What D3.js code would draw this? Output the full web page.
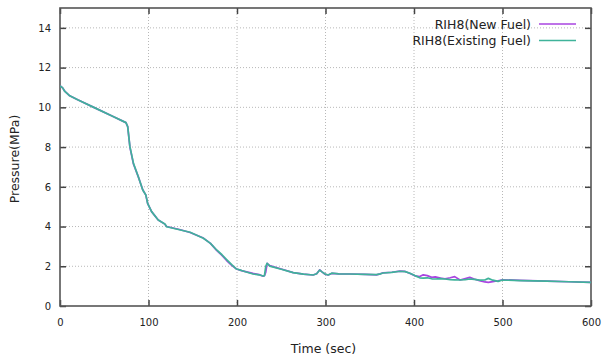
<!DOCTYPE html>
<html>
<head>
<meta charset="utf-8">
<script src="https://cdn.jsdelivr.net/npm/d3@7"></script>
<style>
  body { margin: 0; background: #fff; }
  text { font-family: "DejaVu Sans", sans-serif; fill: #222; }
</style>
</head>
<body>
<script>
// time (sec) and pressure (MPa)
const time = [0, 1, 3, 5.5, 8, 11, 20, 40, 60, 74.5, 76.5, 79, 83, 88.5, 93.5, 97, 99, 103.5, 111, 118.5,
  120.5, 135, 147, 162, 170, 177, 183, 188, 194, 199.5, 205, 218, 225, 229.5, 231, 232.5, 234, 237,
  250, 263.5, 275, 286, 290, 293.5, 296, 299.5, 303, 307, 315, 327.5, 345, 357.5, 362, 365, 375, 384,
  390, 395.5, 401, 406.5, 410.5, 415, 420, 424, 430, 435, 441, 446, 452, 458, 463, 468, 474, 480,
  484, 489, 495, 500, 520, 550, 575, 600];
const newFuel = [11.05, 11.05, 10.98, 10.8, 10.7, 10.58, 10.38, 9.96, 9.54, 9.23, 9.03, 8.0, 7.15, 6.5, 5.85, 5.58, 5.17, 4.75, 4.33, 4.12,
  4.0, 3.85, 3.7, 3.42, 3.15, 2.8, 2.55, 2.3, 2.05, 1.86, 1.78, 1.64, 1.58, 1.5, 1.52, 1.7, 2.15, 2.03,
  1.86, 1.68, 1.6, 1.56, 1.62, 1.82, 1.72, 1.6, 1.56, 1.64, 1.62, 1.61, 1.59, 1.57, 1.62, 1.67, 1.7, 1.76,
  1.74, 1.64, 1.52, 1.48, 1.57, 1.53, 1.44, 1.47, 1.41, 1.37, 1.42, 1.48, 1.31, 1.38, 1.44, 1.36, 1.28, 1.21,
  1.19, 1.23, 1.27, 1.32, 1.29, 1.25, 1.22, 1.19];
const existingFuel = [11.05, 11.05, 10.98, 10.8, 10.7, 10.58, 10.38, 9.96, 9.54, 9.23, 9.03, 8.02, 7.18, 6.51, 5.84, 5.59, 5.17, 4.75, 4.33, 4.13,
  3.99, 3.84, 3.71, 3.41, 3.15, 2.82, 2.58, 2.35, 2.08, 1.86, 1.79, 1.61, 1.57, 1.51, 1.53, 2.0, 2.15, 2.01,
  1.85, 1.68, 1.6, 1.56, 1.62, 1.81, 1.72, 1.61, 1.56, 1.65, 1.62, 1.61, 1.59, 1.58, 1.62, 1.66, 1.69, 1.75,
  1.73, 1.65, 1.53, 1.42, 1.4, 1.42, 1.37, 1.36, 1.38, 1.36, 1.33, 1.32, 1.31, 1.33, 1.36, 1.34, 1.3, 1.31,
  1.39, 1.3, 1.24, 1.31, 1.28, 1.25, 1.22, 1.19];
const xTicks = [0, 100, 200, 300, 400, 500, 600];
const yTicks = [0, 2, 4, 6, 8, 10, 12, 14];
const seriesNames = ["RIH8(New Fuel)", "RIH8(Existing Fuel)"];
const seriesColors = ["#a945e0", "#3fb39a"];

const width = 605;
const height = 358;
const margin = { top: 8, right: 14, bottom: 52, left: 60 };

const x = d3.scaleLinear().domain([0, 600]).range([margin.left, width - margin.right]);
const y = d3.scaleLinear().domain([0, 15]).range([height - margin.bottom, margin.top]);

const svg = d3.select("body").append("svg")
  .attr("width", width)
  .attr("height", height);

// grid
svg.append("g")
  .attr("stroke", "#b8b8b8")
  .attr("stroke-dasharray", "1,2")
  .selectAll("line.gx")
  .data(xTicks.slice(1, -1))
  .join("line")
  .attr("x1", d => x(d)).attr("x2", d => x(d))
  .attr("y1", y(0)).attr("y2", y(15));
svg.append("g")
  .attr("stroke", "#b8b8b8")
  .attr("stroke-dasharray", "1,2")
  .selectAll("line.gy")
  .data(yTicks.slice(1))
  .join("line")
  .attr("x1", x(0)).attr("x2", x(600))
  .attr("y1", d => y(d)).attr("y2", d => y(d));

// axes, gnuplot style: ticks inward, mirrored
const tick = 6;
const ax = svg.append("g").attr("font-size", 12.5);
ax.append("g")
  .attr("transform", `translate(0,${y(0)})`)
  .call(d3.axisBottom(x).tickValues(xTicks).tickSize(-tick).tickPadding(13).tickFormat(d3.format("d")));
ax.append("g")
  .attr("transform", `translate(0,${y(15)})`)
  .call(d3.axisTop(x).tickValues(xTicks).tickSize(-tick).tickFormat(""));
ax.append("g")
  .attr("transform", `translate(${x(0)},0)`)
  .call(d3.axisLeft(y).tickValues(yTicks).tickSize(-tick).tickPadding(9).tickFormat(d3.format("d")));
ax.append("g")
  .attr("transform", `translate(${x(600)},0)`)
  .call(d3.axisRight(y).tickValues(yTicks).tickSize(-tick).tickFormat(""));
ax.selectAll(".domain").remove();
ax.selectAll(".tick line").attr("stroke", "#444").attr("stroke-width", 1.5);
ax.selectAll(".tick text").attr("fill", "#222").attr("font-family", "DejaVu Sans, sans-serif");

svg.append("rect")
  .attr("x", x(0)).attr("y", y(15))
  .attr("width", x(600) - x(0)).attr("height", y(0) - y(15))
  .attr("fill", "none")
  .attr("stroke", "#555")
  .attr("stroke-width", 1.6);

// lines
const line = d3.line().x((d, i) => x(time[i])).y(d => y(d));
[newFuel, existingFuel].forEach((vals, k) => {
  svg.append("path")
    .attr("d", line(vals))
    .attr("fill", "none")
    .attr("stroke", seriesColors[k])
    .attr("stroke-width", 1.7)
    .attr("stroke-linejoin", "round");
});

// legend
const legend = svg.append("g").attr("font-size", 12.5);
seriesNames.forEach((name, k) => {
  const ly = 24 + k * 16.5;
  legend.append("text")
    .attr("x", 531).attr("y", ly + 4.5)
    .attr("text-anchor", "end")
    .text(name);
  legend.append("line")
    .attr("x1", 539).attr("x2", 576)
    .attr("y1", ly).attr("y2", ly)
    .attr("stroke", seriesColors[k])
    .attr("stroke-width", 1.7);
});

// axis titles
svg.append("text")
  .attr("transform", `translate(19,${(y(0) + y(15)) / 2 + 2}) rotate(-90)`)
  .attr("text-anchor", "middle")
  .attr("font-size", 12.5)
  .text("Pressure(MPa)");
svg.append("text")
  .attr("x", (x(0) + x(600)) / 2 - 2)
  .attr("y", 353)
  .attr("text-anchor", "middle")
  .attr("font-size", 12.5)
  .text("Time (sec)");
</script>
</body>
</html>
